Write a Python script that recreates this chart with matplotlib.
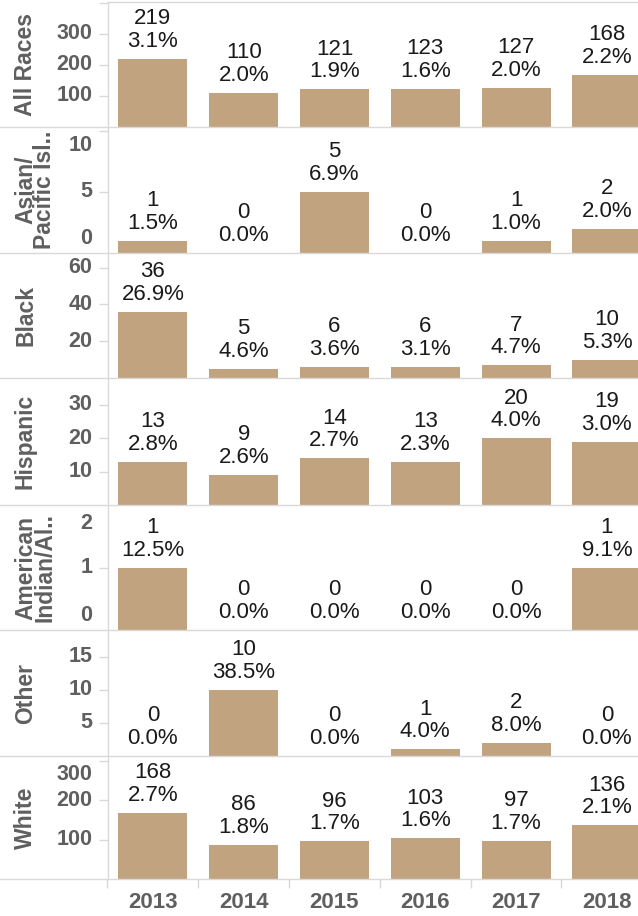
import matplotlib.pyplot as plt
from matplotlib.lines import Line2D

plt.rcParams["font.family"] = ["Liberation Sans", "DejaVu Sans"]

# data
years = ["2013", "2014", "2015", "2016", "2017", "2018"]
races = ["All Races", "Asian/\nPacific Isl..", "Black", "Hispanic",
         "American\nIndian/Al..", "Other", "White"]

all_counts = [219, 110, 121, 123, 127, 168]
all_pct = [3.1, 2.0, 1.9, 1.6, 2.0, 2.2]
asian_counts = [1, 0, 5, 0, 1, 2]
asian_pct = [1.5, 0.0, 6.9, 0.0, 1.0, 2.0]
black_counts = [36, 5, 6, 6, 7, 10]
black_pct = [26.9, 4.6, 3.6, 3.1, 4.7, 5.3]
hisp_counts = [13, 9, 14, 13, 20, 19]
hisp_pct = [2.8, 2.6, 2.7, 2.3, 4.0, 3.0]
amind_counts = [1, 0, 0, 0, 0, 1]
amind_pct = [12.5, 0.0, 0.0, 0.0, 0.0, 9.1]
other_counts = [0, 10, 0, 1, 2, 0]
other_pct = [0.0, 38.5, 0.0, 4.0, 8.0, 0.0]
white_counts = [168, 86, 96, 103, 97, 136]
white_pct = [2.7, 1.8, 1.7, 1.6, 1.7, 2.1]

counts = [all_counts, asian_counts, black_counts, hisp_counts,
          amind_counts, other_counts, white_counts]
pcts = [all_pct, asian_pct, black_pct, hisp_pct, amind_pct, other_pct, white_pct]

y_max = [403, 10.3, 68, 38, 2, 19, 312]
y_ticks = [[100, 200, 300, 400], [0, 5, 10], [20, 40, 60], [10, 20, 30],
           [0, 1, 2], [5, 10, 15], [100, 200, 300]]

# style
BAR = "#c1a47f"
GRID = "#d9d9d9"
AXIS_TXT = "#5f5f5f"

W, H = 638, 916
row_edges = [2, 127, 253, 378, 505, 630, 756, 879]
x0 = 107.5
pitch = 90.8

fig = plt.figure(figsize=(W / 100, H / 100), dpi=100)

for r, name in enumerate(races):
    top, bot = row_edges[r], row_edges[r + 1]
    ax = fig.add_axes([x0 / W, 1 - bot / H, 6 * pitch / W, (bot - top) / H])
    ax.bar(range(len(years)), counts[r], width=0.76, color=BAR, zorder=2)
    ax.set_xlim(-0.5, len(years) - 0.5)
    ax.set_ylim(0, y_max[r])

    for s in ["top", "right", "bottom"]:
        ax.spines[s].set_visible(False)
    ax.spines["left"].set_color(GRID)
    ax.spines["left"].set_linewidth(1)

    ax.set_yticks([t for t in y_ticks[r] if t > 0 and t < y_max[r]])
    ax.tick_params(axis="y", length=6.5, width=1, color=GRID, labelleft=False)
    ax.set_xticks([])

    # tick labels kept inside the pane
    px_per = (bot - top) / y_max[r]
    for t in y_ticks[r]:
        if r == 0 and t == 400:
            continue
        ypix = t * px_per
        if ypix < 14:
            va, yy, dy = "baseline", 0, 9
        elif (bot - top) - ypix < 14:
            va, yy, dy = "top", y_max[r], -8
        else:
            va, yy, dy = "center", t, 0
        ax.annotate(f"{t}", xy=(0, yy), xycoords=("axes fraction", "data"),
                    xytext=(-15, dy), textcoords="offset pixels",
                    ha="right", va=va, fontsize=15.5, fontweight="bold",
                    color=AXIS_TXT, annotation_clip=False)

    for i, (c, p) in enumerate(zip(counts[r], pcts[r])):
        ax.annotate(f"{c}\n{p:.1f}%", xy=(i, c), xytext=(0, 7),
                    textcoords="offset pixels", ha="center", va="bottom",
                    fontsize=16, color="#1a1a1a", linespacing=1.1,
                    annotation_clip=False)

    # row header
    fig.text(14 / W, 1 - (top + bot) / 2 / H, name, rotation=90, ha="left",
             va="center", fontsize=16.5, fontweight="bold", color=AXIS_TXT,
             multialignment="center", linespacing=0.8)

    if r == len(races) - 1:
        ax.set_xticks(range(len(years)))
        ax.set_xticklabels(years, fontsize=16, fontweight="bold", color=AXIS_TXT)
        ax.tick_params(axis="x", length=0, pad=9)
        ax.set_xticks([i - 0.5 for i in range(len(years))], minor=True)
        ax.tick_params(axis="x", which="minor", length=6.5, width=1, color=GRID)

# row separators across the full width
for y in row_edges:
    x_start = x0 / W if y == row_edges[0] else 0
    fig.add_artist(Line2D([x_start, 1], [1 - y / H, 1 - y / H],
                          transform=fig.transFigure, color=GRID, lw=1))

fig.savefig("out.png", dpi=100)
